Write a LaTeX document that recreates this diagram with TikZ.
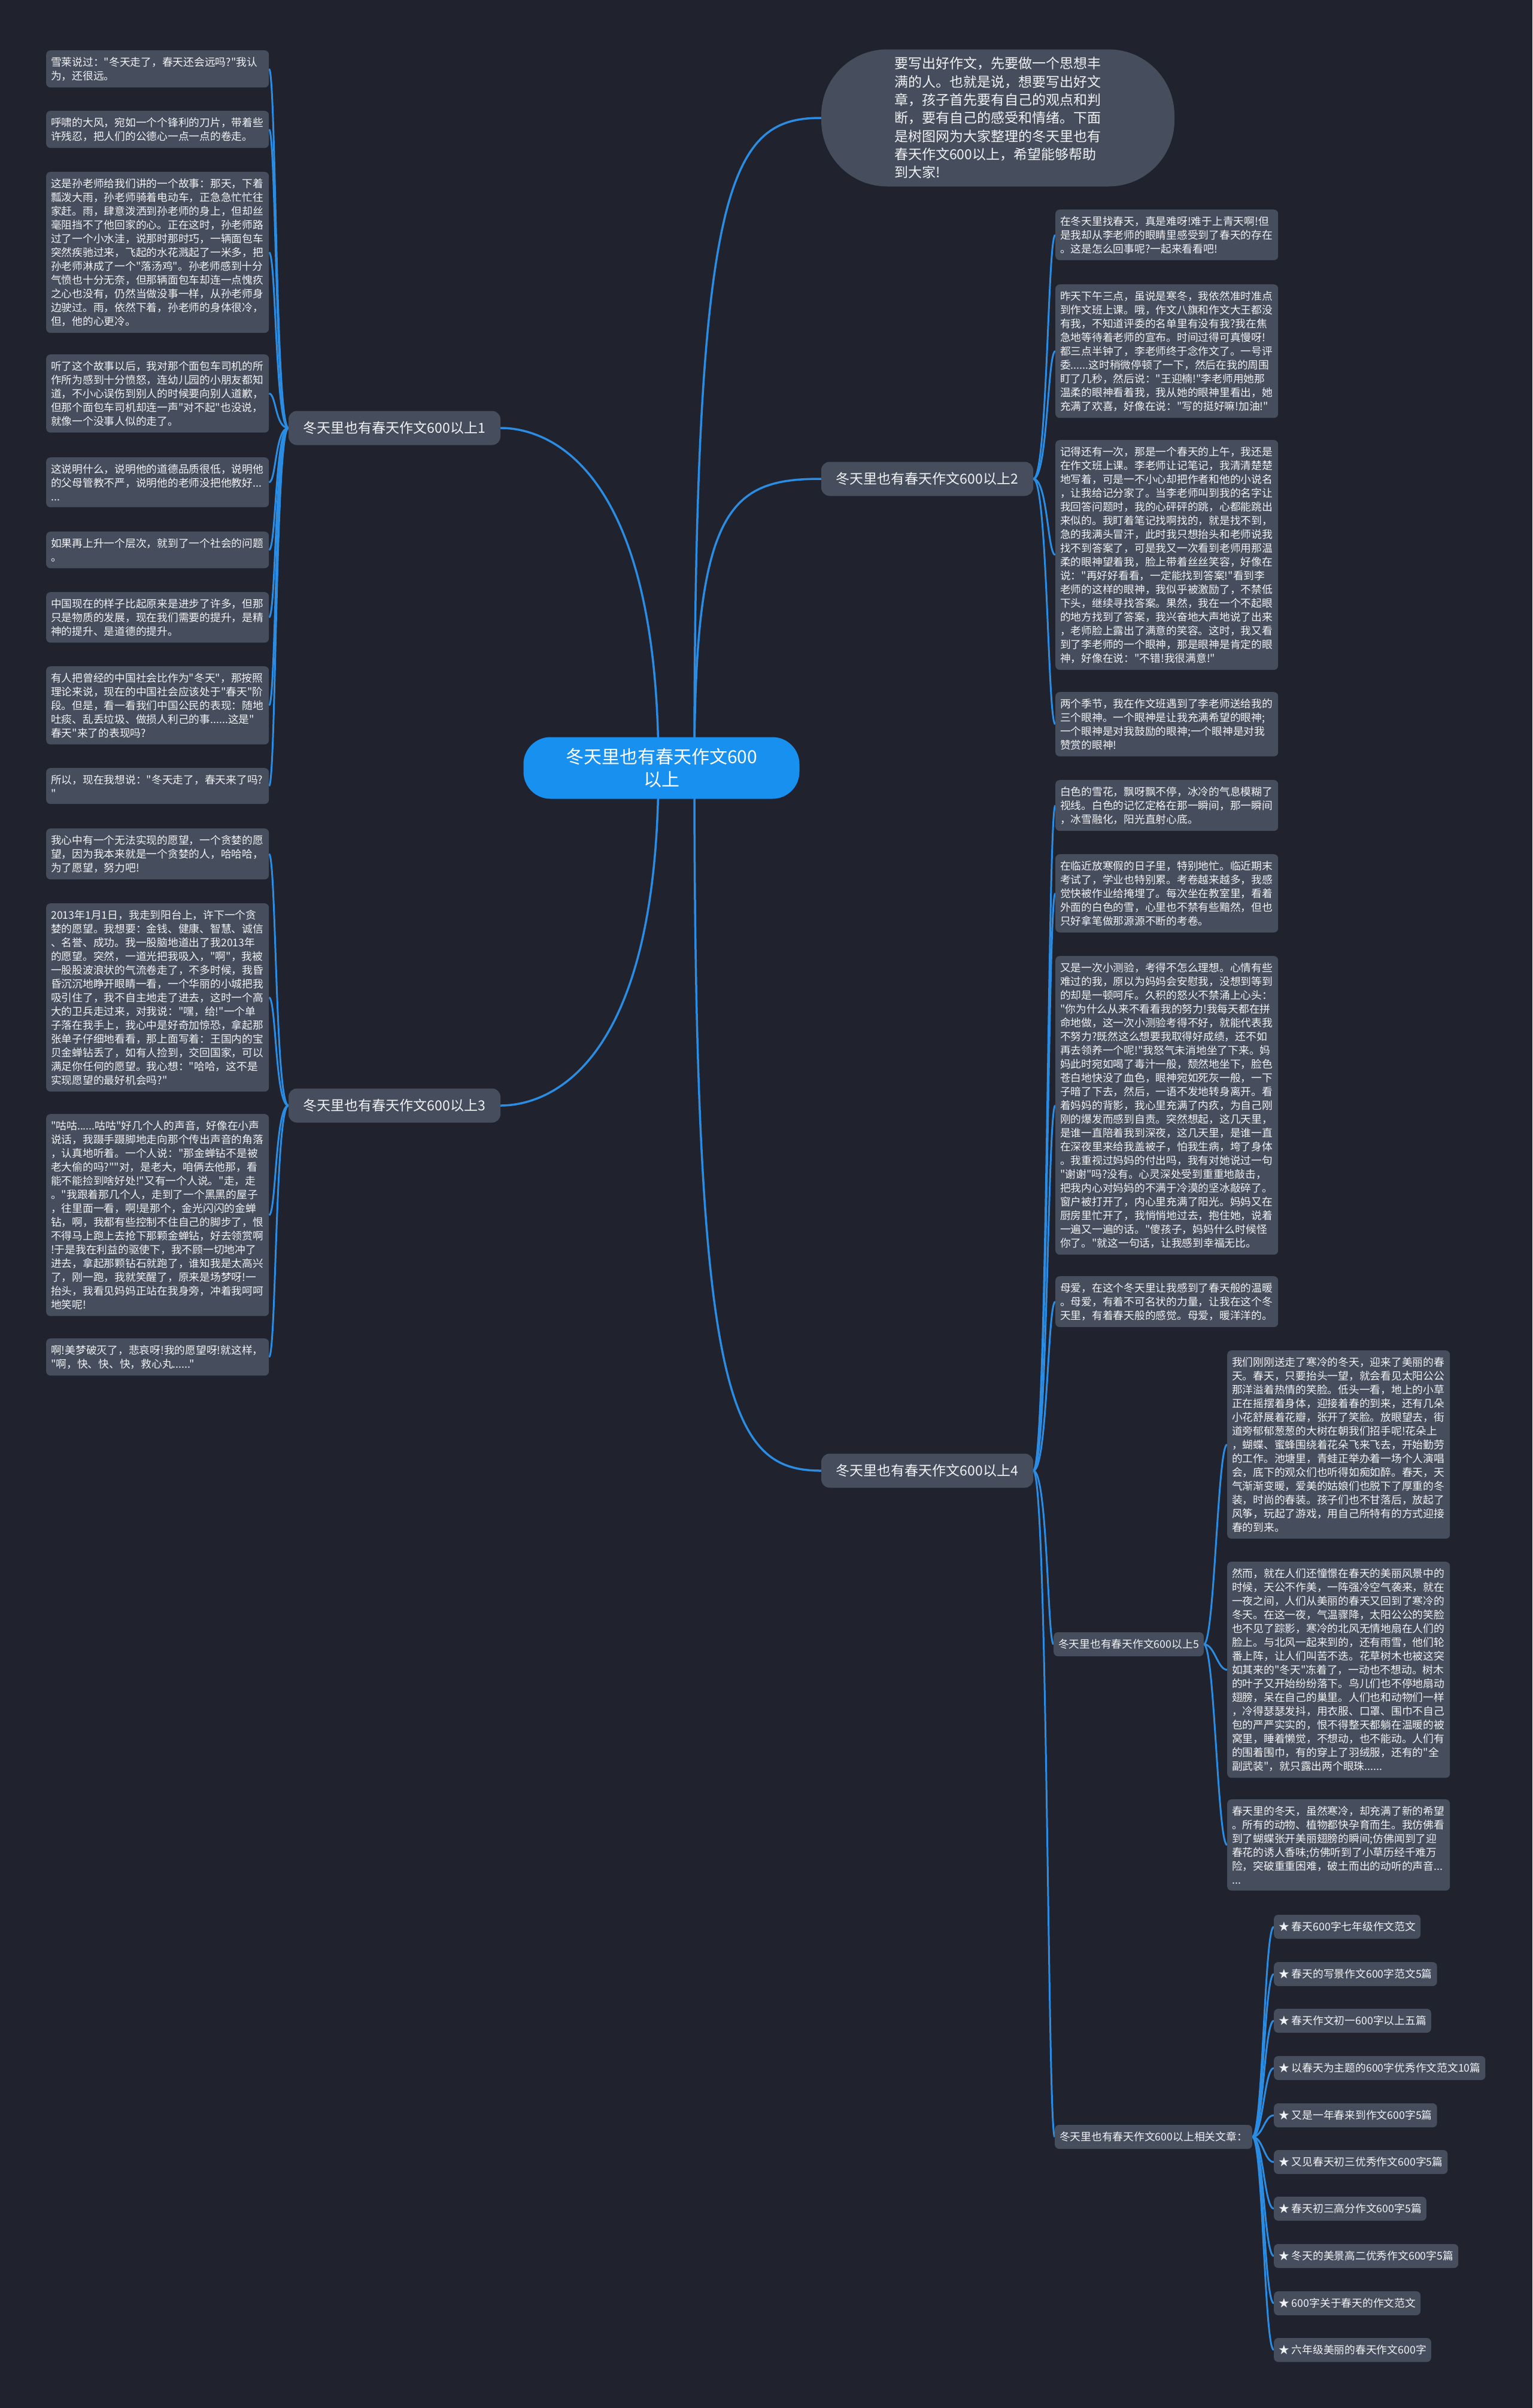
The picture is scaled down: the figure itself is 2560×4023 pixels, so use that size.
\documentclass[tikz,border=0pt]{standalone}
\usepackage{fontspec}
\newfontfamily\zhfont{Noto Sans CJK SC}
\usepackage{xcolor}
\usepackage{tikz}
\usetikzlibrary{calc,backgrounds}
\definecolor{bgCol}{HTML}{20232E}
\definecolor{boxCol}{HTML}{464D5C}
\definecolor{rootCol}{HTML}{1890F0}
\definecolor{lineCol}{HTML}{2A8CE2}
\definecolor{txtCol}{HTML}{F0F2F5}
\tikzset{
  root/.style={fill=rootCol, text=white, rounded corners=45pt, align=center,
        font=\zhfont\fontsize{30}{38}\selectfont, minimum width=461pt, minimum height=103pt},
  intro/.style={fill=boxCol, text=txtCol, rounded corners=110pt, align=left, text width=346pt,
        font=\zhfont\fontsize{23}{30.3}\selectfont, minimum width=590pt, minimum height=229pt},
  topic/.style={fill=boxCol, text=txtCol, rounded corners=14pt, align=center,
        font=\zhfont\fontsize{23}{28}\selectfont, minimum width=354pt, minimum height=57pt},
  leaf/.style={fill=boxCol, text=txtCol, rounded corners=7pt, align=left, anchor=north west,
        font=\zhfont\fontsize{17.75}{23}\selectfont, text width=356pt, inner xsep=8pt, inner ysep=11pt},
  tag/.style={fill=boxCol, text=txtCol, rounded corners=7pt, anchor=west,
        font=\zhfont\fontsize{17.75}{23}\selectfont, inner xsep=8pt, minimum height=40pt},
  link/.style={draw=lineCol, line width=3pt},
  main/.style={draw=lineCol, line width=3.5pt},
}

\begin{document}
\begin{tikzpicture}[x=1pt, y=-1pt]
  \useasboundingbox (0,0) rectangle (2560,4023);
  \begin{scope}[on background layer]
    \fill[bgCol] (0,0) rectangle (2560,4023);
  \end{scope}
  % centre and main topics
  \node[root] (root) at (1105,1283) {冬天里也有春天作文600\\以上};
  \node[intro] (intro) at (1667,197) {要写出好作文，先要做一个思想丰\\满的人。也就是说，想要写出好文\\章，孩子首先要有自己的观点和判\\断，要有自己的感受和情绪。下面\\是树图网为大家整理的冬天里也有\\春天作文600以上，希望能够帮助\\到大家!};
  \node[topic] (br1) at (659,715)  {冬天里也有春天作文600以上1};
  \node[topic] (br2) at (1549,800) {冬天里也有春天作文600以上2};
  \node[topic] (br3) at (659,1847) {冬天里也有春天作文600以上3};
  \node[topic] (br4) at (1549,2457) {冬天里也有春天作文600以上4};
  % left column (topic 1)
  \def\lx{77}
  \node[leaf] (p11) at (\lx,84)  {雪莱说过："冬天走了，春天还会远吗?"我认\\为，还很远。};
  \node[leaf] (p12) at (\lx,185) {呼啸的大风，宛如一个个锋利的刀片，带着些\\许残忍，把人们的公德心一点一点的卷走。};
  \node[leaf] (p13) at (\lx,287) {这是孙老师给我们讲的一个故事：那天，下着\\瓢泼大雨，孙老师骑着电动车，正急急忙忙往\\家赶。雨，肆意泼洒到孙老师的身上，但却丝\\毫阻挡不了他回家的心。正在这时，孙老师路\\过了一个小水洼，说那时那时巧，一辆面包车\\突然疾驰过来，飞起的水花溅起了一米多，把\\孙老师淋成了一个"落汤鸡"。孙老师感到十分\\气愤也十分无奈，但那辆面包车却连一点愧疚\\之心也没有，仍然当做没事一样，从孙老师身\\边驶过。雨，依然下着，孙老师的身体很冷，\\但，他的心更冷。};
  \node[leaf] (p14) at (\lx,592) {听了这个故事以后，我对那个面包车司机的所\\作所为感到十分愤怒，连幼儿园的小朋友都知\\道，不小心误伤到别人的时候要向别人道歉，\\但那个面包车司机却连一声"对不起"也没说，\\就像一个没事人似的走了。};
  \node[leaf] (p15) at (\lx,764) {这说明什么，说明他的道德品质很低，说明他\\的父母管教不严，说明他的老师没把他教好...\\...};
  \node[leaf] (p16) at (\lx,888) {如果再上升一个层次，就到了一个社会的问题\\。};
  \node[leaf] (p17) at (\lx,989) {中国现在的样子比起原来是进步了许多，但那\\只是物质的发展，现在我们需要的提升，是精\\神的提升、是道德的提升。};
  \node[leaf] (p18) at (\lx,1113) {有人把曾经的中国社会比作为"冬天"，那按照\\理论来说，现在的中国社会应该处于"春天"阶\\段。但是，看一看我们中国公民的表现：随地\\吐痰、乱丢垃圾、做损人利己的事......这是"\\春天"来了的表现吗?};
  \node[leaf] (p19) at (\lx,1283) {所以，现在我想说："冬天走了，春天来了吗?\\"};
  % left column (topic 3)
  \node[leaf] (p31) at (\lx,1384) {我心中有一个无法实现的愿望，一个贪婪的愿\\望，因为我本来就是一个贪婪的人，哈哈哈，\\为了愿望，努力吧!};
  \node[leaf] (p32) at (\lx,1509) {2013年1月1日，我走到阳台上，许下一个贪\\婪的愿望。我想要：金钱、健康、智慧、诚信\\、名誉、成功。我一股脑地道出了我2013年\\的愿望。突然，一道光把我吸入，"啊"，我被\\一股股波浪状的气流卷走了，不多时候，我昏\\昏沉沉地睁开眼睛一看，一个华丽的小城把我\\吸引住了，我不自主地走了进去，这时一个高\\大的卫兵走过来，对我说："嘿，给!"一个单\\子落在我手上，我心中是好奇加惊恐，拿起那\\张单子仔细地看看，那上面写着：王国内的宝\\贝金蝉钻丢了，如有人捡到，交回国家，可以\\满足你任何的愿望。我心想："哈哈，这不是\\实现愿望的最好机会吗?"};
  \node[leaf] (p33) at (\lx,1861) {"咕咕......咕咕"好几个人的声音，好像在小声\\说话，我蹑手蹑脚地走向那个传出声音的角落\\，认真地听着。一个人说："那金蝉钻不是被\\老大偷的吗?""对，是老大，咱俩去他那，看\\能不能捡到啥好处!"又有一个人说。"走，走\\。"我跟着那几个人，走到了一个黑黑的屋子\\，往里面一看，啊!是那个，金光闪闪的金蝉\\钻，啊，我都有些控制不住自己的脚步了，恨\\不得马上跑上去抢下那颗金蝉钻，好去领赏啊\\!于是我在利益的驱使下，我不顾一切地冲了\\进去，拿起那颗钻石就跑了，谁知我是太高兴\\了，刚一跑，我就笑醒了，原来是场梦呀!一\\抬头，我看见妈妈正站在我身旁，冲着我呵呵\\地笑呢!};
  \node[leaf] (p34) at (\lx,2236) {啊!美梦破灭了，悲哀呀!我的愿望呀!就这样，\\"啊，快、快、快，救心丸......"};
  % right column (topic 2)
  \def\rx{1763}
  \node[leaf] (p21) at (\rx,350) {在冬天里找春天，真是难呀!难于上青天啊!但\\是我却从李老师的眼睛里感受到了春天的存在\\。这是怎么回事呢?一起来看看吧!};
  \node[leaf] (p22) at (\rx,475) {昨天下午三点，虽说是寒冬，我依然准时准点\\到作文班上课。哦，作文八旗和作文大王都没\\有我，不知道评委的名单里有没有我?我在焦\\急地等待着老师的宣布。时间过得可真慢呀!\\都三点半钟了，李老师终于念作文了。一号评\\委......这时稍微停顿了一下，然后在我的周围\\盯了几秒，然后说："王迎楠!"李老师用她那\\温柔的眼神看着我，我从她的眼神里看出，她\\充满了欢喜，好像在说："写的挺好嘛!加油!"};
  \node[leaf] (p23) at (\rx,735) {记得还有一次，那是一个春天的上午，我还是\\在作文班上课。李老师让记笔记，我清清楚楚\\地写着，可是一不小心却把作者和他的小说名\\，让我给记分家了。当李老师叫到我的名字让\\我回答问题时，我的心砰砰的跳，心都能跳出\\来似的。我盯着笔记找啊找的，就是找不到，\\急的我满头冒汗，此时我只想抬头和老师说我\\找不到答案了，可是我又一次看到老师用那温\\柔的眼神望着我，脸上带着丝丝笑容，好像在\\说："再好好看看，一定能找到答案!"看到李\\老师的这样的眼神，我似乎被激励了，不禁低\\下头，继续寻找答案。果然，我在一个不起眼\\的地方找到了答案，我兴奋地大声地说了出来\\，老师脸上露出了满意的笑容。这时，我又看\\到了李老师的一个眼神，那是眼神是肯定的眼\\神，好像在说："不错!我很满意!"};
  \node[leaf] (p24) at (\rx,1156) {两个季节，我在作文班遇到了李老师送给我的\\三个眼神。一个眼神是让我充满希望的眼神;\\一个眼神是对我鼓励的眼神;一个眼神是对我\\赞赏的眼神!};
  % right column (topic 4)
  \node[leaf] (p41) at (\rx,1303) {白色的雪花，飘呀飘不停，冰冷的气息模糊了\\视线。白色的记忆定格在那一瞬间，那一瞬间\\，冰雪融化，阳光直射心底。};
  \node[leaf] (p42) at (\rx,1427) {在临近放寒假的日子里，特别地忙。临近期末\\考试了，学业也特别累。考卷越来越多，我感\\觉快被作业给掩埋了。每次坐在教室里，看着\\外面的白色的雪，心里也不禁有些黯然，但也\\只好拿笔做那源源不断的考卷。};
  \node[leaf] (p43) at (\rx,1597) {又是一次小测验，考得不怎么理想。心情有些\\难过的我，原以为妈妈会安慰我，没想到等到\\的却是一顿呵斥。久积的怒火不禁涌上心头：\\"你为什么从来不看看我的努力!我每天都在拼\\命地做，这一次小测验考得不好，就能代表我\\不努力?既然这么想要我取得好成绩，还不如\\再去领养一个呢!"我怒气未消地坐了下来。妈\\妈此时宛如喝了毒汁一般，颓然地坐下，脸色\\苍白地快没了血色，眼神宛如死灰一般，一下\\子暗了下去，然后，一语不发地转身离开。看\\着妈妈的背影，我心里充满了内疚，为自己刚\\刚的爆发而感到自责。突然想起，这几天里，\\是谁一直陪着我到深夜，这几天里，是谁一直\\在深夜里来给我盖被子，怕我生病，垮了身体\\。我重视过妈妈的付出吗，我有对她说过一句\\"谢谢"吗?没有。心灵深处受到重重地敲击，\\把我内心对妈妈的不满于冷漠的坚冰敲碎了。\\窗户被打开了，内心里充满了阳光。妈妈又在\\厨房里忙开了，我悄悄地过去，抱住她，说着\\一遍又一遍的话。"傻孩子，妈妈什么时候怪\\你了。"就这一句话，让我感到幸福无比。};
  \node[leaf] (p44) at (\rx,2132) {母爱，在这个冬天里让我感到了春天般的温暖\\。母爱，有着不可名状的力量，让我在这个冬\\天里，有着春天般的感觉。母爱，暖洋洋的。};
  \node[tag] (sub5) at (1760,2747) {冬天里也有春天作文600以上5};
  \node[tag] (subrel) at (1762,3570) {冬天里也有春天作文600以上相关文章：};
  % far right (topic 5)
  \def\sx{2050}
  \node[leaf] (p51) at (\sx,2256) {我们刚刚送走了寒冷的冬天，迎来了美丽的春\\天。春天，只要抬头一望，就会看见太阳公公\\那洋溢着热情的笑脸。低头一看，地上的小草\\正在摇摆着身体，迎接着春的到来，还有几朵\\小花舒展着花瓣，张开了笑脸。放眼望去，街\\道旁郁郁葱葱的大树在朝我们招手呢!花朵上\\，蝴蝶、蜜蜂围绕着花朵飞来飞去，开始勤劳\\的工作。池塘里，青蛙正举办着一场个人演唱\\会，底下的观众们也听得如痴如醉。春天，天\\气渐渐变暖，爱美的姑娘们也脱下了厚重的冬\\装，时尚的春装。孩子们也不甘落后，放起了\\风筝，玩起了游戏，用自己所特有的方式迎接\\春的到来。};
  \node[leaf] (p52) at (\sx,2609) {然而，就在人们还憧憬在春天的美丽风景中的\\时候，天公不作美，一阵强冷空气袭来，就在\\一夜之间，人们从美丽的春天又回到了寒冷的\\冬天。在这一夜，气温骤降，太阳公公的笑脸\\也不见了踪影，寒冷的北风无情地扇在人们的\\脸上。与北风一起来到的，还有雨雪，他们轮\\番上阵，让人们叫苦不迭。花草树木也被这突\\如其来的"冬天"冻着了，一动也不想动。树木\\的叶子又开始纷纷落下。鸟儿们也不停地扇动\\翅膀，呆在自己的巢里。人们也和动物们一样\\，冷得瑟瑟发抖，用衣服、口罩、围巾不自己\\包的严严实实的，恨不得整天都躺在温暖的被\\窝里，睡着懒觉，不想动，也不能动。人们有\\的围着围巾，有的穿上了羽绒服，还有的"全\\副武装"，就只露出两个眼珠......};
  \node[leaf] (p53) at (\sx,3006) {春天里的冬天，虽然寒冷，却充满了新的希望\\。所有的动物、植物都快孕育而生。我仿佛看\\到了蝴蝶张开美丽翅膀的瞬间;仿佛闻到了迎\\春花的诱人香味;仿佛听到了小草历经千难万\\险，突破重重困难，破土而出的动听的声音...\\...};
  % related articles
  \def\ix{2128}
  \node[tag] (rel1)  at (\ix,3219) {★ 春天600字七年级作文范文};
  \node[tag] (rel2)  at (\ix,3298) {★ 春天的写景作文600字范文5篇};
  \node[tag] (rel3)  at (\ix,3376) {★ 春天作文初一600字以上五篇};
  \node[tag] (rel4)  at (\ix,3455) {★ 以春天为主题的600字优秀作文范文10篇};
  \node[tag] (rel5)  at (\ix,3534) {★ 又是一年春来到作文600字5篇};
  \node[tag] (rel6)  at (\ix,3612) {★ 又见春天初三优秀作文600字5篇};
  \node[tag] (rel7)  at (\ix,3690) {★ 春天初三高分作文600字5篇};
  \node[tag] (rel8)  at (\ix,3769) {★ 冬天的美景高二优秀作文600字5篇};
  \node[tag] (rel9)  at (\ix,3848) {★ 600字关于春天的作文范文};
  \node[tag] (rel10) at (\ix,3926) {★ 六年级美丽的春天作文600字};
  % connectors
  \begin{scope}[on background layer]
    \draw[main] ($(root.center)+(55,0)$) .. controls +(0,-983) and +(-152,0) .. (intro.west);
    \draw[main] ($(root.center)+(55,0)$) .. controls +(0,-435) and +(-153,0) .. (br2.west);
    \draw[main] ($(root.center)+(55,0)$) .. controls +(0,1057) and +(-153,0) .. (br4.west);
    \draw[main] ($(root.center)+(-5,0)$) .. controls +(0,-511) and +(74,0) .. (br1.east);
    \draw[main] ($(root.center)+(-5,0)$) .. controls +(0,508) and +(74,0) .. (br3.east);
    \draw[link] (br1.west) .. controls +(-22,0) and +(12,0) .. (p11.east);
    \draw[link] (br1.west) .. controls +(-22,0) and +(12,0) .. (p12.east);
    \draw[link] (br1.west) .. controls +(-22,0) and +(12,0) .. (p13.east);
    \draw[link] (br1.west) .. controls +(-22,0) and +(12,0) .. (p14.east);
    \draw[link] (br1.west) .. controls +(-22,0) and +(12,0) .. (p15.east);
    \draw[link] (br1.west) .. controls +(-22,0) and +(12,0) .. (p16.east);
    \draw[link] (br1.west) .. controls +(-22,0) and +(12,0) .. (p17.east);
    \draw[link] (br1.west) .. controls +(-22,0) and +(12,0) .. (p18.east);
    \draw[link] (br1.west) .. controls +(-22,0) and +(12,0) .. (p19.east);
    \draw[link] (br3.west) .. controls +(-22,0) and +(12,0) .. (p31.east);
    \draw[link] (br3.west) .. controls +(-22,0) and +(12,0) .. (p32.east);
    \draw[link] (br3.west) .. controls +(-22,0) and +(12,0) .. (p33.east);
    \draw[link] (br3.west) .. controls +(-22,0) and +(12,0) .. (p34.east);
    \draw[link] (br2.east) .. controls +(24,0) and +(-13,0) .. (p21.west);
    \draw[link] (br2.east) .. controls +(24,0) and +(-13,0) .. (p22.west);
    \draw[link] (br2.east) .. controls +(24,0) and +(-13,0) .. (p23.west);
    \draw[link] (br2.east) .. controls +(24,0) and +(-13,0) .. (p24.west);
    \draw[link] (br4.east) .. controls +(24,0) and +(-13,0) .. (p41.west);
    \draw[link] (br4.east) .. controls +(24,0) and +(-13,0) .. (p42.west);
    \draw[link] (br4.east) .. controls +(24,0) and +(-13,0) .. (p43.west);
    \draw[link] (br4.east) .. controls +(24,0) and +(-13,0) .. (p44.west);
    \draw[link] (br4.east) .. controls +(24,0) and +(-10,0) .. (sub5.west);
    \draw[link] (br4.east) .. controls +(24,0) and +(-12,0) .. (subrel.west);
    \draw[link] (sub5.east) .. controls +(18,0) and +(-16,0) .. (p51.west);
    \draw[link] (sub5.east) .. controls +(18,0) and +(-16,0) .. (p52.west);
    \draw[link] (sub5.east) .. controls +(18,0) and +(-16,0) .. (p53.west);
    \draw[link] (subrel.east) .. controls +(18,0) and +(-16,0) .. (rel1.west);
    \draw[link] (subrel.east) .. controls +(18,0) and +(-16,0) .. (rel2.west);
    \draw[link] (subrel.east) .. controls +(18,0) and +(-16,0) .. (rel3.west);
    \draw[link] (subrel.east) .. controls +(18,0) and +(-16,0) .. (rel4.west);
    \draw[link] (subrel.east) .. controls +(18,0) and +(-16,0) .. (rel5.west);
    \draw[link] (subrel.east) .. controls +(18,0) and +(-16,0) .. (rel6.west);
    \draw[link] (subrel.east) .. controls +(18,0) and +(-16,0) .. (rel7.west);
    \draw[link] (subrel.east) .. controls +(18,0) and +(-16,0) .. (rel8.west);
    \draw[link] (subrel.east) .. controls +(18,0) and +(-16,0) .. (rel9.west);
    \draw[link] (subrel.east) .. controls +(18,0) and +(-16,0) .. (rel10.west);
  \end{scope}
\end{tikzpicture}
\end{document}
